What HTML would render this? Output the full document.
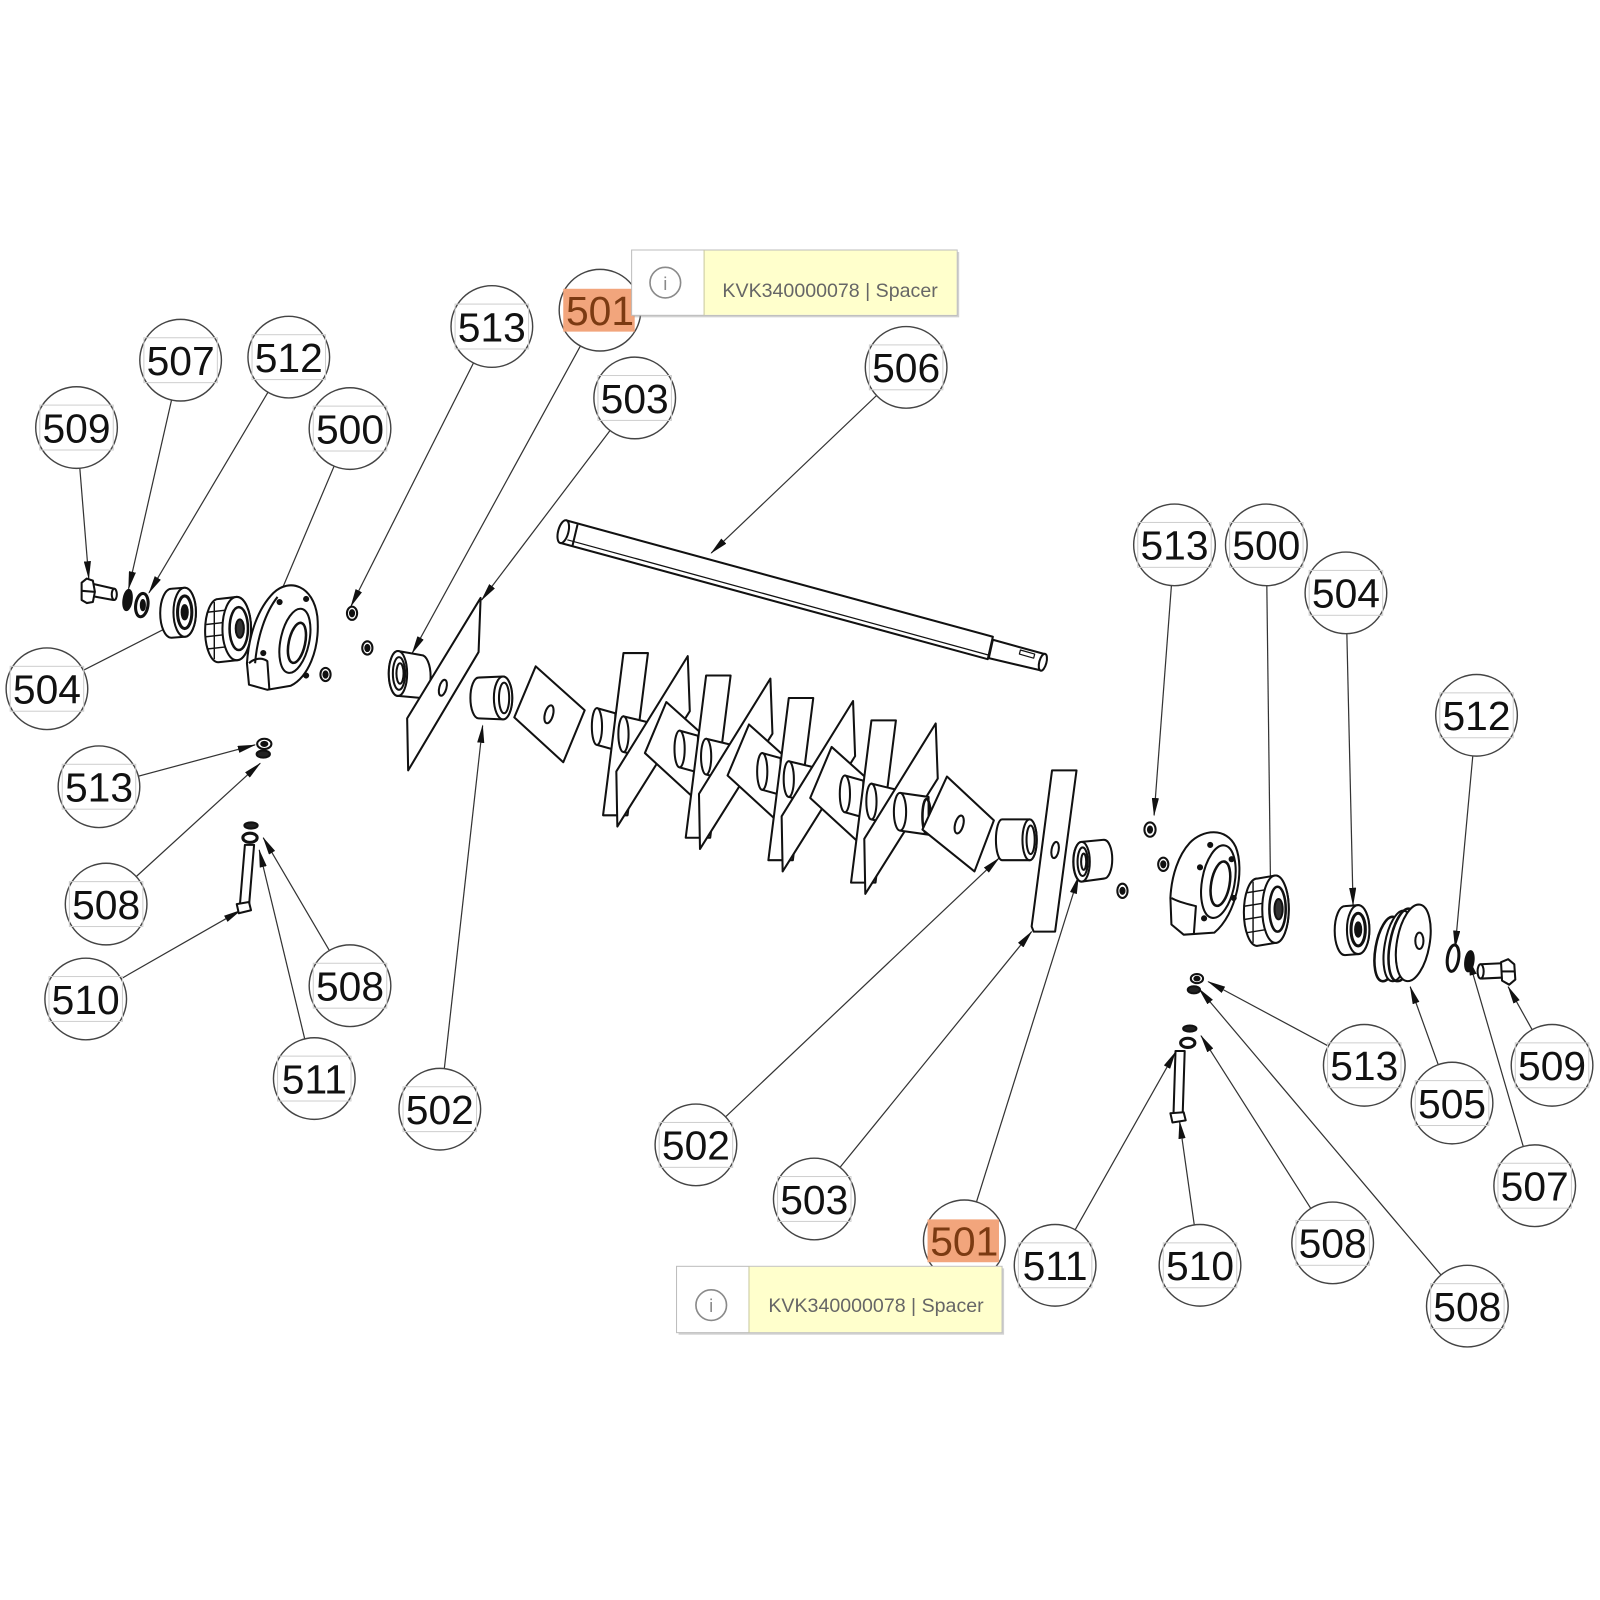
<!DOCTYPE html>
<html><head><meta charset="utf-8"><style>
html,body{margin:0;padding:0;background:#fff;}
svg{display:block;}
.bt{font-family:"Liberation Sans",sans-serif;font-size:40px;text-anchor:middle;fill:#111;}
.tt{font-family:"Liberation Sans",sans-serif;font-size:19px;fill:#666;}
</style></head><body>
<svg xmlns="http://www.w3.org/2000/svg" width="1600" height="1600" viewBox="0 0 1568 1568">
<defs>
<marker id="ar" viewBox="0 0 18 7" refX="17" refY="3.5" markerWidth="18" markerHeight="7" orient="auto" markerUnits="userSpaceOnUse"><path d="M0,0 L18,3.5 L0,7 Z" fill="#111"/></marker>
</defs>
<rect width="1568" height="1568" fill="#fff"/>

<!-- leaders -->
<g stroke="#333" stroke-width="1.2" fill="none">
<line x1="75" y1="419" x2="87" y2="567" marker-end="url(#ar)"/>
<line x1="177" y1="353" x2="126" y2="577" marker-end="url(#ar)"/>
<line x1="283" y1="350" x2="146" y2="581" marker-end="url(#ar)"/>
<line x1="343" y1="420" x2="277" y2="576"/>
<line x1="482" y1="320" x2="344" y2="594" marker-end="url(#ar)"/>
<line x1="588" y1="304" x2="404" y2="640" marker-end="url(#ar)"/>
<line x1="622" y1="390" x2="472" y2="588" marker-end="url(#ar)"/>
<line x1="888" y1="360" x2="697" y2="542" marker-end="url(#ar)"/>
<line x1="46" y1="675" x2="160" y2="617"/>
<line x1="97" y1="771" x2="250" y2="730" marker-end="url(#ar)"/>
<line x1="104" y1="886" x2="255" y2="748" marker-end="url(#ar)"/>
<line x1="84" y1="979" x2="236" y2="892" marker-end="url(#ar)"/>
<line x1="343" y1="966" x2="258" y2="821" marker-end="url(#ar)"/>
<line x1="308" y1="1057" x2="254" y2="833" marker-end="url(#ar)"/>
<line x1="431" y1="1087" x2="473" y2="711" marker-end="url(#ar)"/>
<line x1="682" y1="1122" x2="979" y2="841" marker-end="url(#ar)"/>
<line x1="798" y1="1175" x2="1011" y2="913" marker-end="url(#ar)"/>
<line x1="945" y1="1216" x2="1057" y2="859" marker-end="url(#ar)"/>
<line x1="1034" y1="1240" x2="1152" y2="1031" marker-end="url(#ar)"/>
<line x1="1176" y1="1240" x2="1156" y2="1099" marker-end="url(#ar)"/>
<line x1="1306" y1="1218" x2="1177" y2="1015" marker-end="url(#ar)"/>
<line x1="1438" y1="1280" x2="1175" y2="969" marker-end="url(#ar)"/>
<line x1="1151" y1="534" x2="1131" y2="799" marker-end="url(#ar)"/>
<line x1="1241" y1="534" x2="1245" y2="859"/>
<line x1="1319" y1="581" x2="1326" y2="887" marker-end="url(#ar)"/>
<line x1="1447" y1="701" x2="1426" y2="929" marker-end="url(#ar)"/>
<line x1="1337" y1="1044" x2="1184" y2="962" marker-end="url(#ar)"/>
<line x1="1423" y1="1081" x2="1382" y2="967" marker-end="url(#ar)"/>
<line x1="1521" y1="1044" x2="1478" y2="967" marker-end="url(#ar)"/>
<line x1="1504" y1="1162" x2="1439" y2="939" marker-end="url(#ar)"/>
</g>

<!-- parts -->
<g fill="#fff" stroke="#111" stroke-width="2" stroke-linejoin="round">
<!-- shaft 506 -->
<path d="M555,510 L973,624 L968,646 L549,532 Z"/>
<ellipse cx="552" cy="521" rx="5" ry="11.5" transform="rotate(15 552 521)"/>
<line x1="566" y1="514" x2="561" y2="535"/>
<line x1="556" y1="529" x2="969" y2="642" stroke-width="1.2"/>
<path d="M973,627 L1024,641 L1020,657 L969,645 Z"/>
<ellipse cx="1022" cy="649" rx="3.5" ry="8.5" transform="rotate(15 1022 649)"/>
<path d="M1000,637 L1014,641 L1013,645 L999,641 Z" stroke-width="1.2"/>

<!-- left end parts -->
<path d="M90,572 L112,577 L111,588 L89,584 Z"/>
<ellipse cx="112" cy="582.5" rx="2.5" ry="5.5"/>
<path d="M80,571 L85,567 L91,569 L93,580 L91,590 L85,591 L80,588 Z"/>
<line x1="80" y1="579" x2="93" y2="580"/>
<ellipse cx="125" cy="588" rx="4" ry="10" fill="#111" transform="rotate(8 125 588)"/>
<ellipse cx="139" cy="593" rx="6" ry="11.5" stroke-width="3" transform="rotate(8 139 593)"/>
<ellipse cx="140" cy="593" rx="2" ry="5" fill="#111"/>
<!-- bearing 504 L -->
<path d="M168,577 L181,576 A11,24 0 0 1 181,624 L168,625 A11,24 0 0 1 168,577 Z"/>
<ellipse cx="181" cy="600" rx="11" ry="24"/>
<ellipse cx="181" cy="600" rx="7" ry="16" fill="none" stroke-width="3"/>
<ellipse cx="181" cy="600" rx="3" ry="7" fill="#111"/>
<!-- ring L -->
<path d="M214,587 L232,585 A14,31 0 0 1 232,647 L214,649 A13,31 0 0 1 214,587 Z"/>
<g stroke-width="1.4">
<line x1="203" y1="600" x2="221" y2="598"/><line x1="202" y1="612" x2="220" y2="610"/>
<line x1="202" y1="624" x2="220" y2="622"/><line x1="203" y1="636" x2="221" y2="634"/>
<line x1="210" y1="590" x2="210" y2="646"/>
</g>
<ellipse cx="232" cy="616" rx="14" ry="31"/>
<ellipse cx="234" cy="616" rx="9" ry="21" fill="none" stroke-width="2.5"/>
<ellipse cx="235" cy="616" rx="4" ry="9" fill="#333"/>
<!-- housing 500 L -->
<path d="M268,581 C284,566 307,574 311,604 C314,638 301,664 285,672 L262,676 L244,671 L242,650 C244,621 253,596 268,581 Z"/>
<path d="M272,585 C260,600 252,625 250,650" fill="none"/>
<ellipse cx="289" cy="628" rx="14" ry="32" transform="rotate(12 289 628)"/>
<ellipse cx="291" cy="630" rx="8" ry="20" fill="none" stroke-width="2.5" transform="rotate(12 291 630)"/>
<path d="M244,650 C249,645 257,644 262,648 L264,676" fill="none"/>
<circle cx="274" cy="590" r="2" fill="#111"/><circle cx="300" cy="587" r="2" fill="#111"/><circle cx="258" cy="640" r="2" fill="#111"/><circle cx="300" cy="662" r="2" fill="#111"/>
<!-- small nuts -->
<ellipse cx="345" cy="601" rx="5" ry="6.5"/><ellipse cx="345" cy="601" rx="2" ry="3" fill="#111"/>
<ellipse cx="360" cy="635" rx="5" ry="6.5"/><ellipse cx="360" cy="635" rx="2" ry="3" fill="#111"/>
<ellipse cx="319" cy="661" rx="5" ry="6.5"/><ellipse cx="319" cy="661" rx="2" ry="3" fill="#111"/>

<!-- lower left small parts -->
<ellipse cx="259" cy="729" rx="7" ry="5"/><ellipse cx="259" cy="729" rx="3" ry="2" fill="#111"/>
<ellipse cx="258" cy="739" rx="6.5" ry="3.5" fill="#222"/>
<ellipse cx="246" cy="809" rx="6.5" ry="3" fill="#222"/>
<ellipse cx="245" cy="821" rx="7" ry="4.5" stroke-width="3"/>
<path d="M240,828 L249,828 L244,888 L235,888 Z"/>
<path d="M232,886 L244,884 L246,892 L234,895 Z"/>

<!-- left 501 bushing -->
<path d="M390,638 L413,642 A9,21 0 0 1 413,684 L390,682 A9,22 0 0 1 390,638 Z"/>
<ellipse cx="390" cy="660" rx="9" ry="22"/>
<ellipse cx="391" cy="660" rx="6" ry="16" fill="none"/>
<ellipse cx="392" cy="660" rx="3.5" ry="10" fill="none"/>
<!-- left 503 plate -->
<path d="M471,586 L469,639 L400,755 L399,704 Z"/>
<ellipse cx="434" cy="674" rx="3.5" ry="8" transform="rotate(15 434 674)"/>
<!-- left 502 spacer -->
<path d="M469,664 L493,663 A9,21 0 0 1 493,705 L469,704 A8,20 0 0 1 469,664 Z"/>
<ellipse cx="493" cy="684" rx="9" ry="21"/>
<ellipse cx="494" cy="684" rx="5" ry="15" fill="none"/>
<!-- left square -->
<path d="M525,653 L573,696 L552,747 L504,703 Z"/>
<ellipse cx="538" cy="700" rx="4" ry="9" transform="rotate(15 538 700)"/>

<!-- blade units -->
<g>
<path d="M585,694 L603,699 L603,735 L585,730 Z"/><ellipse cx="585" cy="712" rx="5" ry="18"/>
<path d="M611,640 L635,640 L615,799 L591,799 Z"/>
<path d="M611,702 L636,708 L636,743 L611,737 Z"/><ellipse cx="611" cy="719.5" rx="5" ry="17.5"/>
<path d="M674,643 L676,697 L605,810 L604,756 Z"/>
<path d="M653,688 L701,731 L680,782 L632,738 Z"/>
</g>
<g transform="translate(81,22)">
<path d="M585,694 L603,699 L603,735 L585,730 Z"/><ellipse cx="585" cy="712" rx="5" ry="18"/>
<path d="M611,640 L635,640 L615,799 L591,799 Z"/>
<path d="M611,702 L636,708 L636,743 L611,737 Z"/><ellipse cx="611" cy="719.5" rx="5" ry="17.5"/>
<path d="M674,643 L676,697 L605,810 L604,756 Z"/>
<path d="M653,688 L701,731 L680,782 L632,738 Z"/>
</g>
<g transform="translate(162,44)">
<path d="M585,694 L603,699 L603,735 L585,730 Z"/><ellipse cx="585" cy="712" rx="5" ry="18"/>
<path d="M611,640 L635,640 L615,799 L591,799 Z"/>
<path d="M611,702 L636,708 L636,743 L611,737 Z"/><ellipse cx="611" cy="719.5" rx="5" ry="17.5"/>
<path d="M674,643 L676,697 L605,810 L604,756 Z"/>
<path d="M653,688 L701,731 L680,782 L632,738 Z"/>
</g>
<g transform="translate(243,66)">
<path d="M585,694 L603,699 L603,735 L585,730 Z"/><ellipse cx="585" cy="712" rx="5" ry="18"/>
<path d="M611,640 L635,640 L615,799 L591,799 Z"/>
<path d="M611,702 L636,708 L636,743 L611,737 Z"/><ellipse cx="611" cy="719.5" rx="5" ry="17.5"/>
<path d="M674,643 L676,697 L605,810 L604,756 Z"/>
</g>
<!-- last cylinder + square -->
<path d="M882,777 L910,781 L910,818 L882,814 Z"/><ellipse cx="882" cy="795.5" rx="6" ry="18.5"/>
<ellipse cx="908" cy="800" rx="4" ry="17" fill="none" stroke-width="2.5"/>
<path d="M928,761 L974,804 L955,854 L904,813 Z"/>
<ellipse cx="940" cy="808" rx="4" ry="9" transform="rotate(15 940 808)"/>
<!-- right 502 spacer -->
<path d="M982,803 L1009,803 A7,20 0 0 1 1009,843 L982,843 A6,20 0 0 1 982,803 Z"/>
<ellipse cx="1009" cy="823" rx="7" ry="20"/>
<ellipse cx="1010" cy="823" rx="4" ry="14" fill="none"/>
<!-- right 503 plate -->
<path d="M1031,755 L1055,755 L1034,913 L1013,913 L1011,908 Z"/>
<ellipse cx="1034" cy="833" rx="3.5" ry="8" transform="rotate(10 1034 833)"/>
<!-- right 501 bushing -->
<path d="M1060,825 L1082,823 A8,19 0 0 1 1082,861 L1060,864 A8,19 0 0 1 1060,825 Z"/>
<ellipse cx="1060" cy="844.5" rx="8" ry="19.5"/>
<ellipse cx="1061" cy="844.5" rx="5" ry="14" fill="none"/>
<ellipse cx="1062" cy="844.5" rx="2.5" ry="8" fill="none"/>

<!-- right side small nuts -->
<ellipse cx="1127" cy="813" rx="5.5" ry="7"/><ellipse cx="1127" cy="813" rx="2" ry="3" fill="#111"/>
<ellipse cx="1140" cy="847" rx="5" ry="6.5"/><ellipse cx="1140" cy="847" rx="2" ry="3" fill="#111"/>
<ellipse cx="1100" cy="873" rx="5" ry="7"/><ellipse cx="1100" cy="873" rx="2" ry="3" fill="#111"/>
<!-- housing 500 R -->
<path d="M1166,826 C1178,813 1202,810 1211,830 C1220,852 1212,896 1190,914 L1160,916 L1148,906 L1147,880 C1148,858 1155,838 1166,826 Z"/>
<ellipse cx="1194" cy="864" rx="16" ry="36" fill="none" transform="rotate(10 1194 864)"/>
<ellipse cx="1196" cy="866" rx="9" ry="22" fill="none" stroke-width="2.5" transform="rotate(10 1196 866)"/>
<path d="M1148,880 C1155,884 1164,886 1172,888 L1170,915" fill="none"/>
<circle cx="1186" cy="828" r="2" fill="#111"/><circle cx="1207" cy="842" r="2" fill="#111"/><circle cx="1209" cy="880" r="2" fill="#111"/><circle cx="1180" cy="900" r="2" fill="#111"/><circle cx="1176" cy="850" r="2" fill="#111"/>
<!-- ring R -->
<path d="M1232,861 L1250,858 A13,33 0 0 1 1250,924 L1232,927 A13,33 0 0 1 1232,861 Z"/>
<g stroke-width="1.4">
<line x1="1221" y1="875" x2="1240" y2="872"/><line x1="1220" y1="888" x2="1239" y2="885"/>
<line x1="1220" y1="901" x2="1239" y2="898"/><line x1="1222" y1="914" x2="1241" y2="911"/>
<line x1="1228" y1="864" x2="1228" y2="924"/>
</g>
<ellipse cx="1250" cy="891" rx="13" ry="33"/>
<ellipse cx="1252" cy="891" rx="8" ry="22" fill="none" stroke-width="2.5"/>
<ellipse cx="1253" cy="891" rx="4" ry="10" fill="#333"/>
<!-- bearing 504 R -->
<path d="M1318,888 L1331,887 A11,24 0 0 1 1331,935 L1318,936 A10,24 0 0 1 1318,888 Z"/>
<ellipse cx="1331" cy="911" rx="11" ry="24"/>
<ellipse cx="1331" cy="911" rx="7" ry="16" fill="none" stroke-width="3"/>
<ellipse cx="1331" cy="911" rx="3" ry="7" fill="#111"/>
<!-- pulley 505 -->
<ellipse cx="1360" cy="930" rx="12" ry="32" stroke-width="2.5" transform="rotate(10 1360 930)"/>
<ellipse cx="1370" cy="927" rx="13" ry="35" stroke-width="2" transform="rotate(10 1370 927)"/>
<ellipse cx="1375" cy="926" rx="13" ry="36" fill="none" stroke-width="2.5" transform="rotate(10 1375 926)"/>
<ellipse cx="1385" cy="924" rx="16" ry="38" transform="rotate(10 1385 924)"/>
<ellipse cx="1391" cy="922" rx="4" ry="8"/>
<!-- washers + bolt R -->
<ellipse cx="1424" cy="939" rx="5.5" ry="13" stroke-width="3" transform="rotate(8 1424 939)"/>
<ellipse cx="1440" cy="942" rx="4" ry="10" fill="#111" transform="rotate(8 1440 942)"/>
<path d="M1451,945 L1472,944 L1473,958 L1452,959 Z"/>
<ellipse cx="1451" cy="952" rx="3" ry="7"/>
<path d="M1471,943 L1478,940 L1484,945 L1485,960 L1479,965 L1472,961 Z"/>
<line x1="1472" y1="952" x2="1485" y2="952"/>
<!-- lower right small parts -->
<ellipse cx="1173" cy="959" rx="6" ry="4.5"/><ellipse cx="1173" cy="959" rx="2.5" ry="1.8" fill="#111"/>
<ellipse cx="1170" cy="970" rx="6" ry="3.5" fill="#222"/>
<ellipse cx="1166" cy="1008" rx="6.5" ry="3" fill="#222"/>
<ellipse cx="1164" cy="1022" rx="7" ry="4.5" stroke-width="3"/>
<path d="M1152,1030 L1161,1030 L1159,1093 L1150,1093 Z"/>
<path d="M1147,1091 L1160,1090 L1162,1098 L1149,1100 Z"/>
</g>

<!-- balloons -->
<g>
<g fill="#fff" stroke="#444" stroke-width="1.4">
<circle cx="75" cy="419" r="40"/><circle cx="177" cy="353" r="40"/><circle cx="283" cy="350" r="40"/>
<circle cx="343" cy="420" r="40"/><circle cx="482" cy="320" r="40"/><circle cx="588" cy="304" r="40"/>
<circle cx="622" cy="390" r="40"/><circle cx="888" cy="360" r="40"/><circle cx="46" cy="675" r="40"/>
<circle cx="97" cy="771" r="40"/><circle cx="104" cy="886" r="40"/><circle cx="84" cy="979" r="40"/>
<circle cx="343" cy="966" r="40"/><circle cx="308" cy="1057" r="40"/><circle cx="431" cy="1087" r="40"/>
<circle cx="682" cy="1122" r="40"/><circle cx="798" cy="1175" r="40"/><circle cx="945" cy="1216" r="40"/>
<circle cx="1034" cy="1240" r="40"/><circle cx="1176" cy="1240" r="40"/><circle cx="1306" cy="1218" r="40"/>
<circle cx="1438" cy="1280" r="40"/><circle cx="1151" cy="534" r="40"/><circle cx="1241" cy="534" r="40"/>
<circle cx="1319" cy="581" r="40"/><circle cx="1447" cy="701" r="40"/><circle cx="1337" cy="1044" r="40"/>
<circle cx="1423" cy="1081" r="40"/><circle cx="1521" cy="1044" r="40"/><circle cx="1504" cy="1162" r="40"/>
</g>
<g fill="none" stroke="#cfcfcf" stroke-width="1">
<rect x="39" y="397" width="72" height="44"/><rect x="141" y="331" width="72" height="44"/><rect x="247" y="328" width="72" height="44"/>
<rect x="307" y="398" width="72" height="44"/><rect x="446" y="298" width="72" height="44"/>
<rect x="586" y="368" width="72" height="44"/><rect x="852" y="338" width="72" height="44"/><rect x="10" y="653" width="72" height="44"/>
<rect x="61" y="749" width="72" height="44"/><rect x="68" y="864" width="72" height="44"/><rect x="48" y="957" width="72" height="44"/>
<rect x="307" y="944" width="72" height="44"/><rect x="272" y="1035" width="72" height="44"/><rect x="395" y="1065" width="72" height="44"/>
<rect x="646" y="1100" width="72" height="44"/><rect x="762" y="1153" width="72" height="44"/>
<rect x="998" y="1218" width="72" height="44"/><rect x="1140" y="1218" width="72" height="44"/><rect x="1270" y="1196" width="72" height="44"/>
<rect x="1402" y="1258" width="72" height="44"/><rect x="1115" y="512" width="72" height="44"/><rect x="1205" y="512" width="72" height="44"/>
<rect x="1283" y="559" width="72" height="44"/><rect x="1411" y="679" width="72" height="44"/><rect x="1301" y="1022" width="72" height="44"/>
<rect x="1387" y="1059" width="72" height="44"/><rect x="1485" y="1022" width="72" height="44"/><rect x="1468" y="1140" width="72" height="44"/>
</g>
<rect x="552" y="283" width="70" height="42" fill="#f2a57c"/>
<rect x="909" y="1195" width="70" height="42" fill="#f2a57c"/>
<g class="bt">
<text x="75" y="433.5">509</text><text x="177" y="367.5">507</text><text x="283" y="364.5">512</text>
<text x="343" y="434.5">500</text><text x="482" y="334.5">513</text>
<text x="622" y="404.5">503</text><text x="888" y="374.5">506</text><text x="46" y="689.5">504</text>
<text x="97" y="785.5">513</text><text x="104" y="900.5">508</text><text x="84" y="993.5">510</text>
<text x="343" y="980.5">508</text><text x="308" y="1071.5">511</text><text x="431" y="1101.5">502</text>
<text x="682" y="1136.5">502</text><text x="798" y="1189.5">503</text>
<text x="1034" y="1254.5">511</text><text x="1176" y="1254.5">510</text><text x="1306" y="1232.5">508</text>
<text x="1438" y="1294.5">508</text><text x="1151" y="548.5">513</text><text x="1241" y="548.5">500</text>
<text x="1319" y="595.5">504</text><text x="1447" y="715.5">512</text><text x="1337" y="1058.5">513</text>
<text x="1423" y="1095.5">505</text><text x="1521" y="1058.5">509</text><text x="1504" y="1176.5">507</text>
<text x="588" y="318.5" style="fill:#7b3a12">501</text>
<text x="945" y="1230.5" style="fill:#7b3a12">501</text>
</g>
</g>

<!-- tooltips -->
<g>
<rect x="621" y="247" width="319" height="64" fill="#999" opacity="0.45"/>
<rect x="619" y="245" width="319" height="64" fill="#fff" stroke="#bdbdbd" stroke-width="1"/>
<rect x="690" y="245.5" width="247.5" height="63" fill="#ffffcc"/>
<line x1="690" y1="245" x2="690" y2="309" stroke="#c8c8a0" stroke-width="1"/>
<circle cx="652" cy="277" r="15" fill="none" stroke="#8a8a8a" stroke-width="1.6"/>
<text x="652" y="284" font-family="Liberation Sans, sans-serif" font-size="18" fill="#8a8a8a" text-anchor="middle">i</text>
<text class="tt" x="708" y="291" textLength="211" lengthAdjust="spacingAndGlyphs">KVK340000078 | Spacer</text>

<rect x="665" y="1243" width="319" height="65" fill="#999" opacity="0.45"/>
<rect x="663" y="1241" width="319" height="65" fill="#fff" stroke="#bdbdbd" stroke-width="1"/>
<rect x="734" y="1241.5" width="247.5" height="64" fill="#ffffcc"/>
<line x1="734" y1="1241" x2="734" y2="1306" stroke="#c8c8a0" stroke-width="1"/>
<circle cx="697" cy="1279" r="15" fill="none" stroke="#8a8a8a" stroke-width="1.6"/>
<text x="697" y="1286" font-family="Liberation Sans, sans-serif" font-size="18" fill="#8a8a8a" text-anchor="middle">i</text>
<text class="tt" x="753" y="1286" textLength="211" lengthAdjust="spacingAndGlyphs">KVK340000078 | Spacer</text>
</g>
</svg>
</body></html>
